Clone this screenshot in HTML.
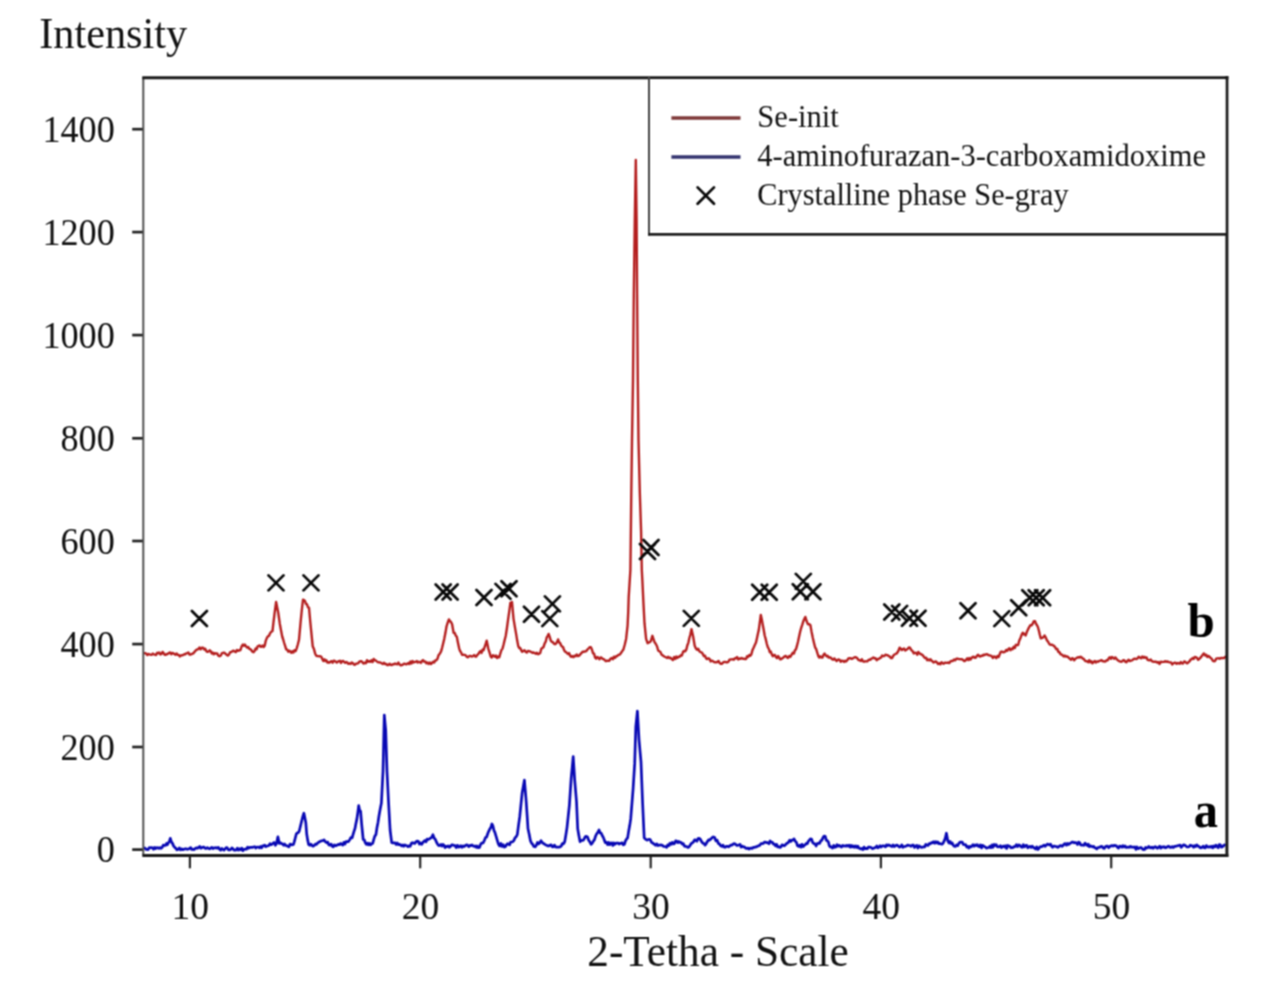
<!DOCTYPE html><html><head><meta charset="utf-8"><style>html,body{margin:0;padding:0;background:#fff;overflow:hidden}svg{display:block}</style></head><body><svg width="1269" height="997" viewBox="0 0 1269 997">
<defs><filter id="cv" color-interpolation-filters="sRGB" x="0" y="0" width="1269" height="997" filterUnits="userSpaceOnUse"><feConvolveMatrix order="3" kernelMatrix="1 2 1 2 4 2 1 2 1" divisor="16" edgeMode="duplicate"/></filter></defs>
<rect width="1269" height="997" fill="#fff"/>
<g filter="url(#cv)">
<rect width="1269" height="997" fill="#fff"/>
<text transform="translate(39.2 48.3) scale(1 1.03)" style='font-family:"Liberation Serif",serif;font-size:42.3px' fill="#111">Intensity</text>
<text transform="translate(114.8 141.9) scale(1 1.04)" text-anchor="end" style='font-family:"Liberation Serif",serif;font-size:36.2px' fill="#111">1400</text>
<line x1="132.2" y1="129.2" x2="143" y2="129.2" stroke="#222" stroke-width="2.7"/>
<text transform="translate(114.8 244.8) scale(1 1.04)" text-anchor="end" style='font-family:"Liberation Serif",serif;font-size:36.2px' fill="#111">1200</text>
<line x1="132.2" y1="232.1" x2="143" y2="232.1" stroke="#222" stroke-width="2.7"/>
<text transform="translate(114.8 347.8) scale(1 1.04)" text-anchor="end" style='font-family:"Liberation Serif",serif;font-size:36.2px' fill="#111">1000</text>
<line x1="132.2" y1="335.1" x2="143" y2="335.1" stroke="#222" stroke-width="2.7"/>
<text transform="translate(114.8 451.0) scale(1 1.04)" text-anchor="end" style='font-family:"Liberation Serif",serif;font-size:36.2px' fill="#111">800</text>
<line x1="132.2" y1="438.3" x2="143" y2="438.3" stroke="#222" stroke-width="2.7"/>
<text transform="translate(114.8 553.7) scale(1 1.04)" text-anchor="end" style='font-family:"Liberation Serif",serif;font-size:36.2px' fill="#111">600</text>
<line x1="132.2" y1="541.0" x2="143" y2="541.0" stroke="#222" stroke-width="2.7"/>
<text transform="translate(114.8 656.8) scale(1 1.04)" text-anchor="end" style='font-family:"Liberation Serif",serif;font-size:36.2px' fill="#111">400</text>
<line x1="132.2" y1="644.1" x2="143" y2="644.1" stroke="#222" stroke-width="2.7"/>
<text transform="translate(114.8 759.7) scale(1 1.04)" text-anchor="end" style='font-family:"Liberation Serif",serif;font-size:36.2px' fill="#111">200</text>
<line x1="132.2" y1="747.0" x2="143" y2="747.0" stroke="#222" stroke-width="2.7"/>
<text transform="translate(114.8 862.3) scale(1 1.04)" text-anchor="end" style='font-family:"Liberation Serif",serif;font-size:36.2px' fill="#111">0</text>
<line x1="132.2" y1="849.6" x2="143" y2="849.6" stroke="#222" stroke-width="2.7"/>
<text transform="translate(190.2 918.5) scale(1 1.03)" text-anchor="middle" style='font-family:"Liberation Serif",serif;font-size:37.5px' fill="#111">10</text>
<line x1="189.9" y1="855" x2="189.9" y2="868.3" stroke="#262626" stroke-width="2.2"/>
<text transform="translate(420.5 918.5) scale(1 1.03)" text-anchor="middle" style='font-family:"Liberation Serif",serif;font-size:37.5px' fill="#111">20</text>
<line x1="420.2" y1="855" x2="420.2" y2="868.3" stroke="#262626" stroke-width="2.2"/>
<text transform="translate(651.0 918.5) scale(1 1.03)" text-anchor="middle" style='font-family:"Liberation Serif",serif;font-size:37.5px' fill="#111">30</text>
<line x1="650.7" y1="855" x2="650.7" y2="868.3" stroke="#262626" stroke-width="2.2"/>
<text transform="translate(881.2 918.5) scale(1 1.03)" text-anchor="middle" style='font-family:"Liberation Serif",serif;font-size:37.5px' fill="#111">40</text>
<line x1="880.9" y1="855" x2="880.9" y2="868.3" stroke="#262626" stroke-width="2.2"/>
<text transform="translate(1111.5 918.5) scale(1 1.03)" text-anchor="middle" style='font-family:"Liberation Serif",serif;font-size:37.5px' fill="#111">50</text>
<line x1="1111.2" y1="855" x2="1111.2" y2="868.3" stroke="#262626" stroke-width="2.2"/>
<text x="587.3" y="966.0" style='font-family:"Liberation Serif",serif;font-size:43.3px' fill="#111">2-Tetha - Scale</text>
<path d="M143.8 848.8L144.9 848.0L146.0 849.3L147.0 849.3L148.1 849.7L149.2 847.7L150.3 847.8L151.4 847.5L152.4 847.7L153.5 849.2L154.6 847.4L155.7 848.6L156.7 847.6L157.8 847.8L158.9 848.4L160.0 847.7L161.1 848.4L162.2 847.3L163.3 845.0L164.4 845.3L165.5 845.5L166.5 843.5L167.4 844.7L168.4 842.7L169.4 841.5L170.3 838.4L171.4 841.9L172.6 843.6L173.7 846.2L174.8 847.5L175.9 848.4L177.0 849.8L178.2 849.5L179.3 847.9L180.5 849.8L181.6 848.8L182.7 849.7L183.9 849.2L185.0 848.9L186.2 848.8L187.3 849.3L188.4 848.9L189.6 848.4L190.7 847.6L191.8 849.5L192.9 849.2L194.1 849.6L195.2 848.5L196.3 847.9L197.5 848.3L198.6 847.4L199.7 846.4L200.8 848.2L201.9 847.7L202.9 847.0L204.0 847.2L205.1 848.3L206.2 848.4L207.3 847.7L208.4 848.3L209.5 848.8L210.6 848.2L211.8 847.4L212.9 848.5L214.0 847.8L215.1 847.8L216.2 847.7L217.3 848.2L218.4 847.4L219.5 849.1L220.7 850.1L221.8 848.4L222.9 849.4L224.0 850.1L225.1 848.8L226.2 847.5L227.3 847.8L228.4 849.8L229.5 849.9L230.7 849.4L231.8 848.0L232.9 848.7L234.0 850.1L235.1 850.2L236.2 850.0L237.3 848.2L238.4 850.2L239.6 848.8L240.7 849.9L241.8 848.2L242.9 850.7L244.0 849.3L245.2 849.2L246.4 849.2L247.6 847.2L248.8 848.1L250.0 847.3L251.2 847.4L252.3 847.4L253.5 847.0L254.7 846.7L255.9 848.0L257.1 847.0L258.3 847.0L259.5 847.8L260.5 846.5L261.6 847.8L262.6 845.8L263.7 845.9L264.7 845.2L265.8 846.6L266.8 846.1L267.9 845.8L268.9 845.4L270.0 843.7L271.1 844.7L272.2 844.1L273.2 843.1L274.3 842.6L275.4 845.3L276.5 843.5L277.9 836.9L279.3 843.5L280.4 842.7L281.4 843.6L282.5 843.9L283.6 845.2L284.6 844.0L285.7 845.5L286.7 845.6L287.8 846.3L288.9 846.9L290.1 844.1L291.2 844.7L292.4 844.8L293.5 844.4L294.4 841.4L295.4 837.5L296.3 834.0L297.3 833.0L298.2 832.6L299.2 831.2L300.4 826.3L301.5 821.7L302.7 817.0L303.9 813.2L304.9 818.0L305.8 822.7L306.7 834.0L307.6 839.6L308.6 844.4L309.7 845.3L310.9 844.1L312.0 845.6L313.2 846.2L314.3 845.4L315.4 844.1L316.4 844.5L317.5 843.2L318.6 842.3L319.6 841.8L320.7 841.0L321.7 840.8L322.8 840.7L324.1 839.9L325.3 841.7L326.6 842.6L327.7 842.1L328.9 844.9L330.0 845.1L331.2 844.1L332.3 846.3L333.3 846.9L334.4 844.9L335.4 845.6L336.5 845.6L337.5 844.7L338.6 844.4L339.6 844.6L340.7 843.5L341.7 844.4L342.8 845.0L343.9 842.3L345.0 844.0L346.1 841.7L347.2 841.5L348.3 841.6L349.6 840.0L350.8 837.7L352.1 837.8L353.1 834.3L354.0 831.4L355.0 828.4L355.9 823.6L356.9 818.9L357.8 812.6L358.7 805.7L359.6 810.0L360.6 811.3L361.6 823.7L363.2 839.5L364.2 839.7L365.3 842.8L366.3 844.3L367.4 843.1L368.4 844.9L369.5 843.4L370.6 844.9L371.6 843.8L372.7 843.5L373.8 839.4L374.8 836.1L375.9 834.7L376.9 828.1L378.0 822.4L379.0 815.7L380.2 809.0L381.4 803.0L383.0 771.3L384.3 715.1L385.7 730.1L387.0 771.3L388.5 801.5L390.1 830.0L391.7 842.7L392.8 842.9L394.0 842.8L395.1 842.9L396.2 844.5L397.3 843.0L398.5 844.7L399.6 844.3L400.7 845.0L401.7 845.9L402.8 844.9L403.8 846.2L404.9 845.0L405.9 845.5L407.0 845.8L408.0 846.7L409.1 845.8L410.2 846.3L411.4 843.3L412.5 842.7L413.7 843.2L414.8 843.4L416.0 841.9L417.1 841.1L418.3 841.3L419.5 844.1L420.6 842.9L421.8 844.3L422.9 842.3L423.9 841.4L425.0 840.5L426.1 841.8L427.1 839.1L428.2 839.5L429.4 838.9L430.5 838.2L431.7 837.4L432.9 834.7L434.1 838.0L435.3 839.3L436.5 842.3L437.7 844.3L438.8 845.6L439.8 845.5L440.9 844.4L441.9 846.1L443.0 844.4L444.0 845.3L445.1 847.6L446.1 846.3L447.2 846.6L448.3 845.8L449.5 847.3L450.6 846.3L451.7 844.9L452.8 844.9L454.0 845.5L455.1 845.7L456.2 847.5L457.4 845.3L458.5 847.1L459.6 847.0L460.7 845.7L461.9 847.3L463.0 845.8L464.2 846.5L465.3 845.6L466.5 844.8L467.7 845.3L468.8 846.6L470.0 845.3L471.0 845.7L472.1 845.0L473.1 845.8L474.1 846.4L475.2 845.9L476.2 847.3L477.3 846.0L478.3 847.7L479.5 847.5L480.6 844.4L481.8 843.0L483.0 843.0L484.2 840.9L485.4 837.7L486.6 837.0L487.8 833.5L488.8 831.1L489.9 828.8L490.9 827.4L491.9 824.0L492.9 825.9L493.9 830.3L494.9 832.3L496.1 836.4L497.2 840.1L498.4 844.1L499.6 845.9L500.8 843.5L501.9 846.4L503.1 844.6L504.3 847.1L505.5 846.5L506.5 844.7L507.6 843.7L508.6 844.3L509.6 844.8L510.7 842.1L511.7 842.0L512.8 841.7L513.8 840.6L515.0 837.9L516.1 836.8L517.3 834.7L518.5 825.4L519.7 816.9L520.9 805.1L522.1 793.3L523.2 787.0L524.4 780.2L525.3 790.7L526.2 801.5L527.1 814.9L528.0 828.8L529.2 834.3L530.4 840.6L531.6 843.2L532.7 844.3L533.9 846.5L535.1 846.8L536.3 845.3L537.5 842.4L538.6 843.8L539.8 842.9L541.0 840.6L542.2 842.5L543.4 843.5L544.5 844.0L545.7 845.0L546.9 845.3L548.0 846.0L549.1 845.9L550.1 845.1L551.2 844.9L552.3 846.8L553.4 846.6L554.5 845.1L555.6 847.0L556.6 847.1L557.7 847.0L558.8 847.1L560.0 846.9L561.2 846.1L562.3 843.6L563.5 843.8L564.7 841.8L565.9 834.7L567.0 827.6L568.2 816.4L569.4 805.1L570.3 791.4L571.2 777.9L572.2 767.6L573.2 756.6L574.7 780.2L575.6 790.8L576.5 801.5L577.7 828.8L578.9 835.7L580.1 841.8L581.1 840.4L582.2 840.5L583.2 840.3L584.2 838.7L585.3 836.8L586.3 836.3L587.5 837.0L588.7 840.2L589.9 842.0L591.1 844.3L592.2 843.2L593.4 841.1L594.5 839.6L595.6 836.0L596.7 833.8L597.9 832.2L599.0 830.0L600.1 832.9L601.1 833.0L602.2 835.5L603.3 837.4L604.3 840.1L605.4 842.7L606.5 842.3L607.5 844.5L608.6 842.4L609.6 844.7L610.7 843.0L611.7 842.9L612.8 845.4L613.8 842.9L614.9 844.3L616.0 843.1L617.0 843.2L618.1 843.0L619.1 844.0L620.2 843.4L621.2 843.3L622.3 842.8L623.3 844.9L624.4 844.3L625.5 840.8L626.5 839.2L627.6 837.9L628.6 831.6L629.7 825.6L630.7 818.9L631.9 804.0L633.1 788.8L634.7 763.4L635.8 727.0L637.4 711.1L639.0 739.6L640.0 750.9L641.0 761.8L642.6 803.0L644.2 837.9L645.2 838.9L646.2 839.6L647.2 840.2L648.2 839.5L649.2 839.3L650.3 839.8L651.4 842.3L652.4 842.8L653.5 843.6L654.5 844.3L655.6 845.4L656.7 843.8L657.8 845.6L658.9 845.0L660.0 845.2L661.2 844.9L662.3 845.3L663.4 846.4L664.5 846.5L665.6 846.6L666.7 847.3L667.8 844.8L668.9 845.6L670.0 843.2L671.2 844.3L672.3 842.3L673.4 843.8L674.5 843.6L675.6 840.9L676.7 841.1L677.8 842.7L678.9 841.5L680.0 842.4L681.1 842.4L682.2 844.1L683.4 843.7L684.5 846.1L685.6 846.4L686.7 846.5L687.8 847.4L688.9 847.1L690.0 845.5L691.1 843.7L692.3 842.9L693.4 842.0L694.6 839.8L695.7 840.3L696.9 841.2L698.0 838.6L699.2 838.4L700.4 839.4L701.6 841.7L702.8 843.2L703.9 843.5L705.1 845.1L706.2 843.6L707.4 841.5L708.5 839.9L709.7 840.2L710.8 838.9L712.1 837.7L713.3 836.9L714.6 837.5L715.9 840.8L717.1 840.1L718.4 843.6L719.5 843.9L720.6 845.7L721.8 846.4L722.9 845.1L724.0 847.0L725.2 847.3L726.3 846.4L727.5 846.3L728.6 846.8L729.8 846.0L730.9 845.0L732.1 845.2L733.2 844.0L734.4 843.6L735.5 844.2L736.6 845.4L737.8 845.3L738.9 845.0L740.0 844.3L741.1 847.1L742.2 846.2L743.3 846.9L744.5 846.9L745.6 848.1L746.7 848.4L747.8 848.0L748.9 849.1L750.0 848.3L751.0 848.0L752.1 848.5L753.2 847.4L754.3 847.4L755.4 846.9L756.5 846.9L757.6 846.2L758.7 845.6L759.8 845.4L760.9 843.6L762.1 843.6L763.2 843.5L764.4 842.2L765.5 842.2L766.7 842.6L767.8 842.7L769.0 843.7L770.1 841.0L771.3 842.2L772.4 842.4L773.4 844.2L774.5 844.0L775.5 845.8L776.6 844.4L777.7 846.9L778.7 846.5L779.8 847.4L780.9 847.0L782.0 844.8L783.1 845.2L784.3 845.8L785.4 844.9L786.5 843.6L787.6 843.1L788.6 842.0L789.7 840.2L790.8 841.5L791.9 840.1L792.9 840.2L794.0 838.9L795.2 841.1L796.4 842.4L797.5 845.7L798.7 846.5L799.8 845.1L800.9 847.2L802.0 844.3L803.2 846.6L804.3 845.2L805.4 844.6L806.4 843.3L807.4 843.6L808.4 841.2L809.4 840.1L810.4 838.9L811.5 839.0L812.7 842.6L813.8 843.6L815.0 843.8L816.1 846.0L817.3 843.5L818.5 843.2L819.6 843.4L820.8 840.8L821.9 840.3L823.0 837.6L824.1 836.1L825.2 836.3L826.3 840.2L827.4 840.8L828.4 842.0L829.3 845.6L830.3 847.0L831.4 846.9L832.5 848.1L833.7 845.5L834.8 847.3L835.9 847.0L837.0 844.7L838.1 846.2L839.2 845.3L840.4 846.4L841.5 847.0L842.6 845.5L843.7 846.1L844.8 845.8L845.9 846.2L846.9 845.3L848.0 846.1L849.1 845.2L850.2 847.2L851.3 845.4L852.4 846.9L853.4 846.0L854.5 847.3L855.6 845.9L856.7 847.4L857.8 846.1L858.8 848.0L859.9 848.4L860.9 849.0L862.0 848.5L863.0 849.6L864.1 847.1L865.1 848.7L866.2 848.4L867.3 848.7L868.3 847.2L869.4 847.0L870.4 847.2L871.5 847.9L872.5 848.6L873.6 848.3L874.6 847.7L875.7 847.4L876.8 846.0L877.9 847.8L879.0 847.0L880.0 845.8L881.1 847.0L882.2 845.8L883.3 845.8L884.4 846.1L885.5 846.8L886.5 844.8L887.6 845.6L888.7 844.9L889.8 845.5L890.9 846.1L892.0 846.6L893.1 845.0L894.2 846.5L895.3 845.8L896.4 845.1L897.4 845.4L898.5 846.2L899.6 847.1L900.7 846.6L901.8 844.8L902.9 847.3L904.0 846.5L905.2 846.5L906.4 845.9L907.6 845.1L908.8 845.5L910.0 845.5L911.1 846.3L912.3 845.2L913.4 845.0L914.5 847.4L915.6 846.3L916.8 845.4L917.9 848.0L919.0 845.8L920.2 846.8L921.3 847.4L922.4 847.2L923.5 846.9L924.7 847.0L925.8 844.4L926.9 845.0L928.0 845.4L929.1 843.7L930.2 843.9L931.4 842.6L932.5 842.9L933.6 841.7L934.7 843.2L935.7 841.6L936.8 842.9L937.8 841.9L938.9 843.7L939.9 843.5L941.0 843.9L942.0 844.2L943.1 843.2L944.2 840.9L945.3 838.0L946.4 833.2L947.8 840.8L948.9 843.0L950.0 841.4L951.1 843.5L952.1 842.8L953.2 845.1L954.3 846.2L955.4 846.5L956.5 845.0L957.7 845.7L958.8 843.7L960.0 842.2L961.1 842.2L962.2 842.2L963.3 844.4L964.5 844.7L965.6 844.7L966.7 847.0L967.8 846.3L968.8 848.1L969.9 846.4L970.9 846.9L972.0 845.9L973.0 844.7L974.1 846.2L975.1 844.8L976.2 845.5L977.3 844.6L978.3 846.3L979.4 846.7L980.4 844.9L981.5 847.9L982.5 845.3L983.6 846.0L984.6 846.7L985.7 847.4L986.7 848.1L987.8 847.7L988.8 847.5L989.9 846.3L990.9 847.6L992.0 845.0L993.0 847.3L994.1 844.4L995.1 845.5L996.2 844.6L997.2 846.6L998.3 846.8L999.3 846.7L1000.4 845.6L1001.4 847.6L1002.5 846.7L1003.5 846.0L1004.6 847.0L1005.6 845.7L1006.7 848.4L1007.7 845.5L1008.8 845.9L1009.8 846.3L1010.9 847.8L1011.9 847.6L1013.0 847.6L1014.0 846.5L1015.2 846.7L1016.4 844.6L1017.6 846.6L1018.8 844.8L1020.0 845.5L1021.1 847.0L1022.2 847.3L1023.3 844.7L1024.4 846.9L1025.6 845.6L1026.7 845.3L1027.8 847.8L1028.9 846.7L1030.0 846.4L1031.1 847.4L1032.2 846.1L1033.3 847.3L1034.5 848.2L1035.6 849.0L1036.7 846.9L1037.8 849.4L1038.9 848.4L1040.0 846.8L1041.0 846.7L1042.1 846.6L1043.1 845.7L1044.2 845.1L1045.2 846.3L1046.3 845.1L1047.3 844.1L1048.4 844.6L1049.4 845.0L1050.5 844.1L1051.5 846.1L1052.6 847.2L1053.6 846.1L1054.7 846.2L1055.7 846.5L1056.8 846.7L1057.8 847.4L1058.9 846.7L1060.0 845.6L1061.1 845.6L1062.2 846.4L1063.3 845.3L1064.4 843.7L1065.4 843.5L1066.5 845.2L1067.6 843.4L1068.7 844.4L1069.8 843.4L1070.9 843.0L1072.0 842.2L1073.1 842.0L1074.2 842.8L1075.3 842.5L1076.4 843.0L1077.5 844.5L1078.6 842.1L1079.6 842.6L1080.7 844.9L1081.8 845.1L1082.9 845.0L1084.0 845.3L1085.1 843.2L1086.2 844.6L1087.3 845.6L1088.3 844.2L1089.4 846.7L1090.4 845.8L1091.5 846.4L1092.5 846.9L1093.6 846.3L1094.6 847.7L1095.7 847.9L1096.8 848.9L1097.9 847.5L1099.0 847.4L1100.0 847.1L1101.1 846.4L1102.2 846.6L1103.3 848.2L1104.4 848.4L1105.5 846.6L1106.5 846.2L1107.6 846.2L1108.7 847.7L1109.8 846.5L1110.9 845.8L1112.0 845.6L1113.1 846.1L1114.2 845.4L1115.3 845.6L1116.4 845.9L1117.4 847.2L1118.5 848.1L1119.6 846.1L1120.7 846.3L1121.8 847.2L1122.9 845.6L1124.0 847.0L1125.1 845.9L1126.2 847.5L1127.3 847.3L1128.3 847.0L1129.4 847.4L1130.5 846.3L1131.6 847.1L1132.7 847.0L1133.8 847.3L1134.8 846.9L1135.9 849.3L1137.0 847.0L1138.1 848.6L1139.2 848.3L1140.2 847.5L1141.3 847.5L1142.4 849.0L1143.5 849.6L1144.5 849.5L1145.6 847.5L1146.7 848.1L1147.7 847.7L1148.8 846.5L1149.9 847.5L1150.9 847.9L1152.0 847.2L1153.1 848.3L1154.2 847.2L1155.2 846.7L1156.3 847.2L1157.4 848.3L1158.6 847.3L1159.7 846.3L1160.8 848.2L1162.0 846.9L1163.1 847.2L1164.2 846.7L1165.3 847.8L1166.5 847.4L1167.6 846.5L1168.7 846.2L1169.9 847.3L1171.0 847.5L1172.1 846.7L1173.3 847.5L1174.4 846.3L1175.5 846.4L1176.7 846.0L1177.8 845.7L1178.9 845.5L1180.1 845.1L1181.2 847.4L1182.3 846.2L1183.5 844.8L1184.6 845.1L1185.7 845.8L1186.8 846.9L1188.0 847.0L1189.1 846.7L1190.2 845.2L1191.4 845.6L1192.5 845.8L1193.6 847.2L1194.6 845.6L1195.7 846.5L1196.8 844.8L1197.9 846.2L1198.9 846.3L1200.0 847.6L1201.1 847.8L1202.1 847.3L1203.2 846.1L1204.3 847.8L1205.3 848.0L1206.4 845.6L1207.5 846.7L1208.6 847.2L1209.6 846.5L1210.7 847.2L1211.8 846.3L1212.8 847.8L1213.9 845.9L1215.0 846.8L1216.0 845.1L1217.1 846.3L1218.2 847.7L1219.2 844.7L1220.3 844.9L1221.3 847.1L1222.4 847.0L1223.5 845.7L1224.5 844.9L1225.6 845.4" fill="none" stroke="#0808b4" stroke-width="2.7" stroke-linejoin="round"/>
<path d="M143.9 653.1L145.0 653.2L146.2 653.7L147.3 655.1L148.4 653.9L149.5 654.3L150.7 654.7L151.8 654.7L152.9 653.6L153.9 654.4L155.0 654.7L156.1 655.0L157.2 652.8L158.2 653.2L159.3 652.5L160.4 654.5L161.5 654.0L162.5 651.9L163.6 653.1L164.7 654.7L165.8 654.8L166.8 654.0L167.9 654.0L169.0 652.8L170.1 652.5L171.2 654.2L172.3 652.9L173.3 653.5L174.4 653.8L175.5 654.7L176.6 653.5L177.7 654.9L178.8 655.0L179.9 656.4L181.0 655.5L182.1 655.2L183.1 655.1L184.2 654.3L185.2 654.4L186.2 653.4L187.3 653.1L188.4 652.4L189.4 654.6L190.4 654.6L191.5 654.1L192.6 653.7L193.6 653.1L194.8 651.6L195.9 650.3L197.1 649.5L198.3 649.2L199.5 647.5L200.7 649.2L201.8 647.7L203.0 647.6L204.1 649.4L205.2 648.8L206.4 651.3L207.5 651.8L208.6 651.5L209.7 650.3L210.7 651.2L211.8 653.5L212.8 652.5L213.8 654.3L214.9 653.1L216.1 653.6L217.2 653.4L218.4 655.8L219.6 656.2L220.8 655.5L222.0 653.1L223.2 652.8L224.3 652.7L225.5 653.8L226.7 654.7L227.8 655.6L229.0 654.6L230.1 652.2L231.2 652.1L232.3 651.2L233.5 650.6L234.6 651.5L235.8 652.1L236.9 650.0L238.1 650.9L239.2 650.3L240.4 650.2L241.6 646.5L242.8 644.6L243.9 645.8L244.9 644.6L246.0 646.2L247.1 647.6L248.2 646.9L249.2 648.8L250.3 649.1L251.4 650.2L252.5 651.8L253.5 652.3L254.6 650.9L255.6 648.5L256.6 649.3L257.6 646.4L258.7 646.0L259.7 645.4L260.7 646.9L261.7 646.6L262.7 645.4L263.7 647.0L264.7 645.8L265.7 640.9L266.7 638.4L267.7 636.5L268.9 635.9L270.1 633.2L271.3 631.8L272.5 631.0L273.5 622.1L274.5 614.0L276.1 602.0L277.1 606.9L278.2 612.5L279.8 623.7L281.0 630.2L282.2 636.5L283.2 639.5L284.2 643.0L285.2 646.1L286.2 649.4L287.2 649.7L288.3 651.7L289.3 650.7L290.3 651.5L291.3 652.8L292.4 651.2L293.4 652.6L294.5 650.2L295.5 651.2L296.6 648.6L297.8 644.5L299.0 639.8L300.6 622.1L301.8 610.1L303.0 599.6L304.0 600.0L305.0 601.1L306.0 603.9L307.0 604.4L308.0 607.4L309.0 607.7L310.3 622.1L311.1 630.1L312.7 646.2L313.9 648.9L315.1 653.4L316.1 655.6L317.2 656.1L318.2 656.1L319.2 656.4L320.2 656.2L321.3 656.8L322.3 659.0L323.3 660.9L324.4 659.2L325.4 661.1L326.4 660.3L327.4 662.5L328.5 662.3L329.5 662.5L330.5 661.7L331.6 661.2L332.6 662.7L333.7 660.6L334.7 660.9L335.8 661.7L336.8 662.5L337.9 661.6L338.9 661.1L340.0 660.8L341.0 663.0L342.1 661.1L343.1 660.9L344.2 662.0L345.2 662.8L346.3 662.0L347.3 662.6L348.4 663.9L349.5 663.4L350.6 663.9L351.7 662.5L352.8 663.1L353.9 664.5L355.0 664.7L356.0 663.6L357.1 663.6L358.2 663.2L359.3 661.7L360.4 661.3L361.5 661.2L362.6 662.5L363.7 663.5L364.8 662.7L365.9 663.2L367.0 660.2L368.1 661.8L369.3 661.1L370.4 661.7L371.5 660.2L372.6 662.0L373.7 659.0L374.8 660.1L375.9 660.6L377.1 661.6L378.2 662.4L379.4 662.3L380.5 662.6L381.6 663.3L382.8 664.0L383.9 662.7L385.1 664.1L386.2 663.9L387.3 665.1L388.4 665.0L389.5 663.7L390.6 664.8L391.8 665.0L392.9 664.1L394.0 664.3L395.1 663.5L396.2 664.1L397.3 664.2L398.4 662.6L399.5 664.3L400.7 665.4L401.8 665.0L402.9 664.6L404.0 663.6L405.1 663.9L406.2 664.4L407.2 663.7L408.3 663.1L409.3 664.1L410.4 661.6L411.4 663.4L412.5 661.0L413.5 662.5L414.6 662.0L415.6 661.9L416.7 661.1L417.7 662.4L418.8 661.8L419.8 662.1L420.9 662.9L421.9 660.9L423.0 660.1L424.0 661.5L425.2 661.5L426.4 663.2L427.5 662.4L428.7 663.9L429.8 662.4L430.9 664.1L432.0 662.9L433.0 661.7L434.1 662.6L435.2 660.4L436.3 660.4L437.5 658.7L438.6 655.1L439.8 653.7L441.0 651.7L442.1 647.8L443.1 643.7L444.2 639.1L445.4 633.1L446.5 626.5L447.7 622.6L448.9 619.4L450.0 621.2L451.0 622.0L452.1 624.2L453.6 632.8L454.7 633.0L455.7 635.5L456.8 636.8L458.0 643.0L459.2 648.6L460.2 651.2L461.1 652.4L462.1 654.7L463.1 654.9L464.3 654.8L465.5 655.1L466.6 656.6L467.8 657.3L468.9 656.4L469.9 655.9L471.0 656.2L472.0 656.6L473.1 655.9L474.1 655.1L475.2 656.5L476.2 656.6L477.3 654.9L478.4 654.0L479.4 652.1L480.5 651.1L481.5 652.9L482.6 649.6L483.6 650.2L484.6 647.2L485.7 643.9L486.7 640.7L488.3 648.6L489.5 652.4L490.7 656.5L491.8 657.5L492.9 655.3L493.9 655.7L495.0 656.8L496.1 655.6L497.1 658.1L498.2 656.4L499.3 657.3L500.4 653.3L501.4 650.1L502.5 648.6L503.6 644.5L504.6 640.2L505.7 636.0L506.9 628.2L508.0 620.2L509.2 611.7L510.4 602.9L512.0 602.1L513.5 618.6L515.1 628.1L516.2 634.4L517.2 640.6L518.3 646.2L519.3 648.1L520.2 648.0L521.2 650.3L522.2 651.7L523.3 650.8L524.5 650.3L525.6 651.7L526.8 652.5L527.9 650.9L529.0 651.2L530.2 651.5L531.3 652.0L532.4 652.8L533.6 652.5L534.7 653.0L535.8 653.7L536.9 652.8L538.1 654.2L539.2 653.6L540.2 653.0L541.3 648.7L542.3 648.1L543.5 647.0L544.7 643.4L545.7 641.7L546.7 637.5L547.6 636.1L548.6 633.9L549.7 636.9L550.7 640.4L551.8 641.8L552.9 642.2L553.9 643.6L555.0 644.2L556.0 643.7L557.1 641.9L558.1 639.4L559.1 642.5L560.0 642.8L561.0 645.2L562.0 646.5L563.0 647.0L564.0 649.9L565.0 651.6L566.0 652.0L567.0 653.1L568.1 654.0L569.1 653.1L570.2 655.9L571.2 656.8L572.3 656.0L573.4 657.2L574.6 655.7L575.7 656.2L576.8 654.5L577.9 656.1L579.1 655.7L580.2 654.4L581.4 653.2L582.6 651.6L583.8 651.9L584.9 651.4L586.1 651.3L587.3 649.7L588.5 648.5L589.6 647.3L590.8 647.1L592.0 649.7L593.0 653.3L594.1 653.7L595.1 657.6L596.2 658.7L597.3 657.0L598.4 657.7L599.5 659.2L600.5 657.5L601.6 657.7L602.7 659.0L603.8 659.1L604.9 660.3L605.9 661.2L607.0 660.7L608.2 660.6L609.4 660.7L610.5 658.7L611.7 658.0L612.8 659.3L613.9 656.7L615.0 657.9L616.0 656.3L617.1 656.4L618.2 654.9L619.2 654.7L620.2 654.1L621.3 652.5L622.4 650.9L623.4 649.5L624.8 644.5L626.1 638.9L627.6 625.3L628.2 612.6L628.7 596.8L629.7 581.1L630.4 570.0L630.7 544.4L631.3 492.2L632.0 440.0L633.0 380.0L633.8 295.0L634.8 220.0L635.8 160.0L636.6 220.0L637.1 295.0L637.8 380.0L638.5 440.0L639.8 492.2L641.1 531.4L641.8 570.0L642.4 581.1L643.4 602.1L644.5 623.2L646.1 638.9L647.6 643.2L648.7 642.4L649.7 642.3L650.8 641.1L652.4 635.8L653.5 639.1L654.5 642.1L655.7 643.8L657.0 646.2L658.2 650.5L659.3 651.2L660.4 651.9L661.5 654.5L662.5 655.2L663.6 656.0L664.7 656.7L665.9 657.3L667.1 658.0L668.2 656.8L669.4 658.1L670.6 657.7L671.8 659.1L672.9 660.0L674.1 657.1L675.2 659.0L676.3 656.5L677.4 657.9L678.6 656.6L679.7 656.7L680.8 655.3L681.9 655.5L683.0 652.0L684.1 651.0L685.2 651.2L686.3 649.6L687.3 645.5L688.4 642.6L689.3 638.3L690.3 634.7L691.5 629.2L693.1 636.2L694.7 645.7L695.9 648.5L697.0 649.8L698.2 648.7L699.4 651.2L700.5 652.1L701.7 652.4L702.8 654.0L703.9 656.1L705.0 655.8L706.2 658.6L707.3 659.1L708.4 658.2L709.6 659.0L710.7 661.4L711.8 660.6L712.9 661.1L714.1 662.1L715.2 662.3L716.3 662.2L717.4 662.0L718.5 660.9L719.6 663.0L720.7 663.7L721.8 663.7L722.9 662.8L724.0 661.9L725.1 661.9L726.2 662.3L727.3 662.4L728.4 661.8L729.5 659.6L730.5 659.5L731.6 659.4L732.7 659.3L733.8 659.7L734.9 658.3L736.0 658.4L737.1 657.1L738.3 659.5L739.4 658.4L740.5 658.8L741.6 658.0L742.8 658.7L743.9 658.7L745.0 659.1L746.0 659.1L747.1 656.3L748.1 656.9L749.2 655.0L750.2 655.8L751.3 654.4L752.5 650.1L753.6 647.8L754.8 645.1L756.0 642.6L756.9 638.5L757.9 633.7L758.8 629.9L759.8 622.4L760.8 615.0L761.8 619.4L762.7 624.4L763.7 629.8L764.7 635.5L765.8 639.4L766.8 643.8L767.9 647.3L768.9 649.0L769.8 652.2L770.8 651.6L771.8 654.4L772.8 656.2L773.9 655.0L774.9 655.0L776.0 657.2L777.0 658.2L778.1 656.1L779.1 657.4L780.2 659.4L781.2 659.1L782.3 658.2L783.5 657.4L784.6 656.3L785.7 655.9L786.8 657.2L788.0 657.9L789.1 656.0L790.3 656.9L791.5 654.8L792.7 652.8L793.9 653.6L794.9 650.4L796.0 649.2L797.0 645.7L798.1 641.3L799.1 636.4L800.2 631.5L801.2 627.9L802.3 624.7L803.3 621.3L804.3 619.0L805.3 616.9L806.6 621.0L808.0 624.4L809.2 624.1L810.4 625.2L811.6 631.9L812.8 637.8L814.0 642.9L815.1 647.3L816.2 649.2L817.2 652.5L818.3 656.0L819.3 657.6L820.4 656.3L821.4 657.5L822.5 657.5L823.5 654.9L824.6 653.6L825.6 655.2L826.5 656.2L827.5 655.7L828.5 657.5L829.7 657.3L830.9 657.6L832.0 659.2L833.2 659.7L834.4 658.4L835.6 659.9L836.6 661.1L837.7 659.8L838.7 659.4L839.8 660.1L840.8 661.8L841.9 660.6L842.9 660.9L844.0 661.9L845.0 660.7L846.1 661.4L847.2 660.2L848.4 658.5L849.5 658.1L850.6 658.2L851.7 658.9L852.9 658.4L854.0 657.6L855.1 657.2L856.2 657.5L857.4 658.3L858.5 660.1L859.7 660.3L860.8 660.9L861.9 659.3L863.0 661.3L864.1 661.7L865.1 661.3L866.2 661.4L867.3 661.4L868.4 660.0L869.3 659.6L870.3 659.9L871.2 658.6L872.3 658.3L873.4 657.5L874.5 658.4L875.6 658.3L876.7 660.2L877.8 659.0L878.9 659.0L880.0 657.9L881.1 657.6L882.1 655.5L883.2 656.1L884.3 656.0L885.4 654.8L886.5 655.0L887.6 655.1L888.7 656.2L889.8 656.5L890.9 658.1L892.0 658.1L893.2 655.9L894.4 654.5L895.5 654.0L896.7 653.4L897.7 652.1L898.6 650.4L899.6 647.7L900.7 648.7L901.8 650.1L903.0 649.0L904.1 648.5L905.2 650.5L906.4 649.8L907.6 648.9L908.8 647.4L910.0 647.7L911.3 650.1L912.5 651.0L913.8 653.4L914.9 652.6L916.0 652.9L917.2 654.7L918.3 651.9L919.4 653.4L920.5 653.9L921.7 654.6L922.8 655.3L924.0 657.0L925.1 658.1L926.2 657.7L927.2 660.2L928.3 659.4L929.3 660.4L930.4 659.2L931.4 660.5L932.5 661.4L933.5 662.5L934.6 661.9L935.8 661.5L937.0 662.5L938.1 664.0L939.3 663.3L940.4 664.2L941.5 662.3L942.6 663.2L943.7 663.8L944.8 662.6L945.9 662.8L947.0 662.9L948.2 662.5L949.3 663.1L950.5 661.4L951.6 660.9L952.8 661.0L954.0 659.6L955.2 660.3L956.4 658.6L957.6 658.7L958.7 659.1L959.8 659.1L960.9 659.3L962.0 659.2L963.1 659.9L964.2 661.1L965.2 660.8L966.3 659.4L967.3 658.3L968.4 660.1L969.4 658.1L970.5 659.5L971.5 658.1L972.6 656.9L973.6 656.8L974.7 657.7L975.8 657.6L977.0 655.6L978.1 654.8L979.2 656.1L980.3 656.5L981.4 655.6L982.5 655.9L983.7 654.6L984.8 655.0L985.9 654.4L987.1 654.1L988.2 655.0L989.4 655.3L990.5 655.7L991.7 656.2L992.8 657.9L994.0 656.4L995.1 656.9L996.3 658.2L997.4 656.1L998.6 657.0L999.7 654.3L1000.9 651.6L1002.0 651.6L1003.1 652.3L1004.1 652.1L1005.2 651.6L1006.2 649.9L1007.3 650.7L1008.3 649.1L1009.4 648.3L1010.4 650.2L1011.5 648.8L1012.6 649.2L1013.7 646.7L1014.8 648.0L1015.9 644.8L1017.0 645.1L1018.1 645.0L1019.3 640.5L1020.5 637.9L1021.6 634.8L1022.8 632.7L1023.7 634.3L1024.7 634.0L1025.6 635.5L1026.8 632.0L1028.0 629.4L1029.2 627.1L1030.4 625.1L1031.6 625.2L1032.8 623.5L1033.9 621.1L1035.1 621.3L1036.0 623.8L1037.0 625.2L1037.9 627.0L1038.9 630.8L1039.8 634.6L1040.8 638.4L1042.1 637.9L1043.3 637.4L1044.6 635.5L1045.8 637.6L1046.9 640.2L1048.1 641.8L1049.3 644.0L1050.5 644.9L1051.7 644.6L1052.8 645.2L1054.0 645.9L1055.1 647.2L1056.2 649.0L1057.3 648.9L1058.3 652.0L1059.4 651.9L1060.5 654.3L1061.6 654.4L1062.6 655.3L1063.7 656.5L1064.7 655.5L1065.8 656.6L1066.8 656.3L1067.9 656.8L1068.9 658.0L1070.0 658.9L1071.0 659.7L1072.1 658.1L1073.1 658.5L1074.2 660.3L1075.3 658.7L1076.3 658.2L1077.4 657.7L1078.5 657.2L1079.6 657.5L1080.6 656.7L1081.7 657.4L1082.8 658.6L1083.8 658.9L1084.9 660.6L1086.0 661.2L1087.1 661.1L1088.2 662.3L1089.2 660.2L1090.3 662.2L1091.4 661.3L1092.5 663.3L1093.7 661.9L1094.8 661.0L1095.9 662.5L1097.0 661.4L1098.1 661.7L1099.2 660.9L1100.4 660.6L1101.5 660.1L1102.6 661.2L1103.6 661.1L1104.7 661.6L1105.7 661.3L1106.8 660.1L1107.8 660.2L1108.9 658.0L1109.9 657.3L1111.0 658.7L1112.0 657.0L1113.1 657.9L1114.2 658.7L1115.3 657.4L1116.4 658.7L1117.5 660.0L1118.6 660.7L1119.7 661.4L1120.8 661.7L1122.0 661.5L1123.1 660.2L1124.2 660.3L1125.3 661.8L1126.4 662.2L1127.5 660.7L1128.7 659.8L1129.8 661.1L1130.9 660.7L1132.0 660.4L1133.1 659.5L1134.2 658.7L1135.3 658.8L1136.4 659.1L1137.5 658.4L1138.7 656.8L1139.9 657.6L1141.1 658.3L1142.3 656.5L1143.4 657.8L1144.4 656.8L1145.5 657.9L1146.6 657.5L1147.7 659.9L1148.7 660.2L1149.8 660.3L1150.8 659.6L1151.9 661.1L1152.9 661.6L1154.0 661.8L1155.0 661.6L1156.1 661.7L1157.1 662.6L1158.3 662.0L1159.5 663.9L1160.7 661.7L1161.8 662.1L1163.0 661.9L1164.2 661.9L1165.4 661.1L1166.5 661.9L1167.7 661.5L1168.8 662.1L1170.0 662.4L1171.1 662.5L1172.2 664.4L1173.4 663.3L1174.5 662.7L1175.5 662.8L1176.6 663.8L1177.7 663.0L1178.7 663.3L1179.8 663.7L1180.8 662.0L1181.9 663.3L1183.0 663.5L1184.1 661.5L1185.2 661.7L1186.4 663.0L1187.5 663.3L1188.6 662.0L1189.7 661.2L1190.7 659.4L1191.7 659.3L1192.7 658.0L1193.7 658.9L1194.7 657.0L1195.9 657.1L1197.0 658.0L1198.2 659.8L1199.3 658.9L1200.5 657.7L1201.6 656.2L1202.8 654.6L1203.9 653.4L1205.0 655.5L1206.2 654.7L1207.3 656.9L1208.5 656.0L1209.6 657.0L1210.6 657.9L1211.7 658.7L1212.8 660.8L1213.8 661.2L1215.0 661.0L1216.2 658.6L1217.4 658.4L1218.6 658.3L1219.7 658.7L1220.8 657.9L1222.0 658.2L1223.2 657.9L1224.3 658.0L1225.4 656.7L1226.6 657.0" fill="none" stroke="#b41e1e" stroke-width="2.4" stroke-linejoin="round"/>
<path d="M191.9 611.0L206.9 626.0M191.9 626.0L206.9 611.0M268.5 575.4L283.5 590.4M268.5 590.4L283.5 575.4M303.5 575.4L318.5 590.4M303.5 590.4L318.5 575.4M435.7 584.5L450.7 599.5M435.7 599.5L450.7 584.5M442.6 584.5L457.6 599.5M442.6 599.5L457.6 584.5M476.5 590.0L491.5 605.0M476.5 605.0L491.5 590.0M495.5 583.9L510.5 598.9M495.5 598.9L510.5 583.9M501.5 581.2L516.5 596.2M501.5 596.2L516.5 581.2M524.0 606.8L539.0 621.8M524.0 621.8L539.0 606.8M544.9 596.4L559.9 611.4M544.9 611.4L559.9 596.4M542.3 611.1L557.3 626.1M542.3 626.1L557.3 611.1M643.5 540.0L658.5 555.0M643.5 555.0L658.5 540.0M640.0 544.0L655.0 559.0M640.0 559.0L655.0 544.0M683.8 610.9L698.8 625.9M683.8 625.9L698.8 610.9M752.2 584.7L767.2 599.7M752.2 599.7L767.2 584.7M761.7 584.7L776.7 599.7M761.7 599.7L776.7 584.7M792.8 584.3L807.8 599.3M792.8 599.3L807.8 584.3M805.4 584.3L820.4 599.3M805.4 599.3L820.4 584.3M795.8 573.9L810.8 588.9M795.8 588.9L810.8 573.9M884.3 604.5L899.3 619.5M884.3 619.5L899.3 604.5M892.1 605.9L907.1 620.9M892.1 620.9L907.1 605.9M902.0 610.7L917.0 625.7M902.0 625.7L917.0 610.7M910.5 610.7L925.5 625.7M910.5 625.7L925.5 610.7M960.5 603.3L975.5 618.3M960.5 618.3L975.5 603.3M994.3 611.1L1009.3 626.1M994.3 626.1L1009.3 611.1M1011.2 600.2L1026.2 615.2M1011.2 615.2L1026.2 600.2M1022.3 590.3L1037.3 605.3M1022.3 605.3L1037.3 590.3M1028.7 590.3L1043.7 605.3M1028.7 605.3L1043.7 590.3M1035.1 590.3L1050.1 605.3M1035.1 605.3L1050.1 590.3" fill="none" stroke="#080808" stroke-width="2.75" stroke-linecap="round"/>
<line x1="143.3" y1="77" x2="143.3" y2="855" stroke="#505050" stroke-width="2"/>
<line x1="142.3" y1="77.8" x2="1228.4" y2="77.8" stroke="#1a1a1a" stroke-width="3"/>
<line x1="1226.9" y1="76" x2="1226.9" y2="856.7" stroke="#1a1a1a" stroke-width="3"/>
<line x1="142.3" y1="855.5" x2="1228.4" y2="855.5" stroke="#1a1a1a" stroke-width="2.8"/>
<rect x="650" y="79.2" width="575.5" height="154" fill="#fff"/>
<line x1="649" y1="77" x2="649" y2="235.5" stroke="#444" stroke-width="2"/>
<line x1="648" y1="234.4" x2="1227" y2="234.4" stroke="#1e1e1e" stroke-width="2.8"/>
<line x1="671.4" y1="118.1" x2="740.5" y2="118.1" stroke="#7e3838" stroke-width="3.5"/>
<line x1="671.4" y1="157" x2="740.5" y2="157" stroke="#33336f" stroke-width="3.5"/>
<path d="M697.6 187.4L714.0 203.8M697.6 203.8L714.0 187.4" fill="none" stroke="#080808" stroke-width="2.75" stroke-linecap="round"/>
<text transform="translate(757.3 127.4) scale(1 1.04)" style='font-family:"Liberation Serif",serif;font-size:30.6px' fill="#111">Se-init</text>
<text transform="translate(757.3 166.4) scale(1 1.02)" style='font-family:"Liberation Serif",serif;font-size:30.5px' fill="#111">4-aminofurazan-3-carboxamidoxime</text>
<text transform="translate(757.3 205.3) scale(1 1.02)" style='font-family:"Liberation Serif",serif;font-size:30.3px' fill="#111">Crystalline phase Se-gray</text>
<text x="1187.6" y="636.6" style='font-family:"Liberation Serif",serif;font-size:49px;font-weight:bold' fill="#000">b</text>
<text transform="translate(1193.8 827.2) scale(1 1.04)" style='font-family:"Liberation Serif",serif;font-size:48.5px;font-weight:bold' fill="#000">a</text>
</g>
</svg></body></html>
